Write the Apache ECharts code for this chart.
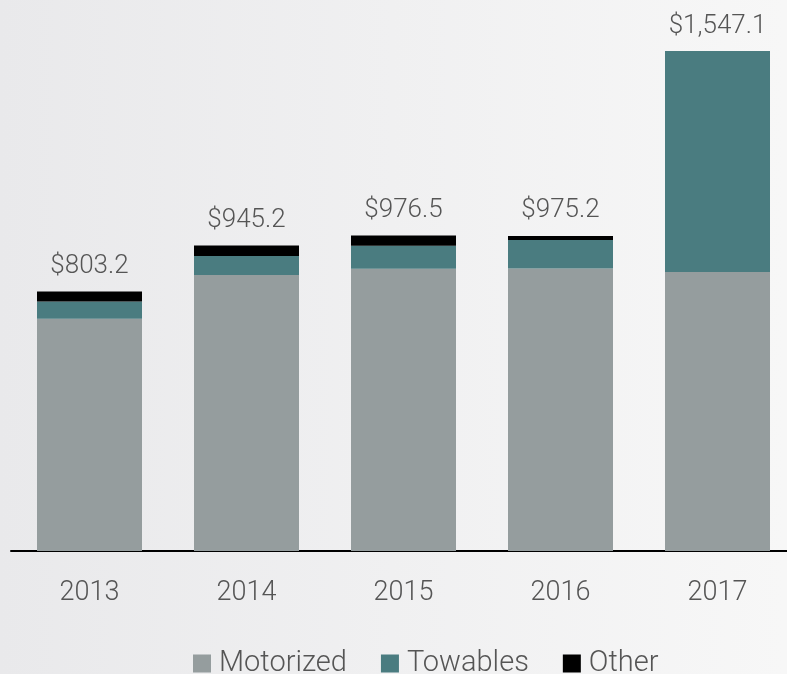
<!DOCTYPE html>
<html>
<head>
<meta charset="utf-8">
<script src="https://cdn.jsdelivr.net/npm/echarts@6/dist/echarts.min.js"></script>
<style>
html,body{margin:0;padding:0;overflow:hidden;}
#main{width:800px;height:674px;}
</style>
</head>
<body>
<div id="main"></div>
<script>
// data ($ millions)
let years = ['2013', '2014', '2015', '2016', '2017'];
let motorized = [718.6, 854.4, 873.5, 874.0, 863.3];
let towables = [53.6, 58.8, 71.2, 88.8, 683.8];
let other = [31.0, 32.0, 31.8, 12.4, 0];
let totals = ['$803.2', '$945.2', '$976.5', '$975.2', '$1,547.1'];

let textColor = '#555555';
let fontName = 'Roboto';

// the chart runs a little past the right edge of the window, like the original
let chart = echarts.init(document.getElementById('main'));

let option = {
    backgroundColor: {
        type: 'linear', x: 0, y: 0, x2: 1, y2: 0,
        colorStops: [
            {offset: 0, color: '#e9e9eb'},
            {offset: 0.98, color: '#f7f7f7'},
            {offset: 1, color: '#f7f7f7'}
        ]
    },
    animation: false,
    legend: {
        left: 188,
        top: 644,
        itemWidth: 18,
        itemHeight: 18,
        itemGap: 34,
        icon: 'rect',
        textStyle: {color: textColor, fontSize: 29, fontFamily: fontName, fontWeight: 300, padding: [0, 0, 0, 3]},
        data: ['Motorized', 'Towables', 'Other']
    },
    grid: {left: 11, right: 4, top: 34, bottom: 123, containLabel: false},
    xAxis: {
        type: 'category',
        data: years,
        axisLine: {lineStyle: {color: '#000', width: 2}},
        axisTick: {show: false},
        axisLabel: {color: textColor, fontSize: 27, fontFamily: fontName, fontWeight: 300, margin: 29}
    },
    yAxis: {
        type: 'value',
        min: 0,
        max: 1600,
        show: false,
        splitLine: {show: false}
    },
    series: [
        {
            name: 'Motorized',
            type: 'bar',
            stack: 'total',
            barWidth: 105,
            itemStyle: {color: '#959d9e'},
            data: motorized
        },
        {
            name: 'Towables',
            type: 'bar',
            stack: 'total',
            itemStyle: {color: '#4a7c80'},
            data: towables
        },
        {
            name: 'Other',
            type: 'bar',
            stack: 'total',
            itemStyle: {color: '#000000'},
            label: {
                show: true,
                position: 'top',
                distance: 12,
                color: textColor,
                fontSize: 26,
                fontFamily: fontName,
                fontWeight: 300,
                formatter: function (p) {
                    return totals[p.dataIndex];
                }
            },
            data: other
        }
    ]
};

chart.setOption(option);
</script>
</body>
</html>
